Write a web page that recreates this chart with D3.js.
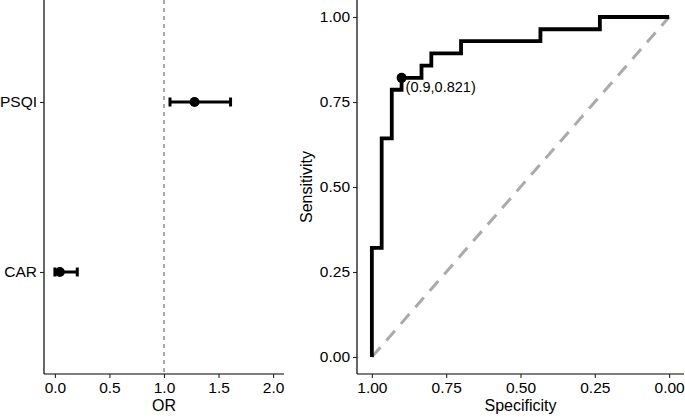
<!doctype html>
<html lang="en">
<head>
<meta charset="utf-8">
<title>OR forest plot and ROC curve</title>
<script src="https://d3js.org/d3.v7.min.js"></script>
<style>
  body { margin: 0; background: #fff; }
  text { font-family: "Liberation Sans", Arial, sans-serif; }
</style>
</head>
<body>
<div id="chart"></div>
<script>
// forest plot data
const factors = ["CAR", "PSQI"];
const orEst = [0.045, 1.28];
const orLow = [0.0, 1.055];
const orHigh = [0.205, 1.61];
const orTicks = [0, 0.5, 1.0, 1.5, 2.0];

// ROC curve vertices
const specificity = [1.000, 1.000, 0.967, 0.967, 0.933, 0.933, 0.900, 0.900, 0.833, 0.833, 0.800, 0.800, 0.700, 0.700, 0.433, 0.433, 0.233, 0.233, 0.000];
const sensitivity = [0.000, 0.321, 0.321, 0.643, 0.643, 0.786, 0.786, 0.821, 0.821, 0.857, 0.857, 0.893, 0.893, 0.929, 0.929, 0.964, 0.964, 1.000, 1.000];
const cutSpec = 0.9, cutSens = 0.821;
const rocTicks = [0, 0.25, 0.5, 0.75, 1.0];

const width = 685, height = 417;
const fsTick = 15.5, fsTitle = 16, fsLabel = 14.5;

const svg = d3.select("#chart").append("svg")
    .attr("width", width)
    .attr("height", height);

// ---------- left panel ----------
const L = {left: 44, right: 284, top: 0, bottom: 374};

const xOR = d3.scaleLinear().domain([-0.1, 2.1]).range([L.left, L.right]);
const yCat = d3.scaleLinear().domain([0.4, 2.6]).range([L.bottom, L.top]);

const gl = svg.append("g");

// reference line at OR = 1
gl.append("line")
    .attr("x1", xOR(1)).attr("x2", xOR(1))
    .attr("y1", L.top).attr("y2", L.bottom)
    .attr("stroke", "#666").attr("stroke-width", 1.1)
    .attr("stroke-dasharray", "4,4");

const rows = factors.map((f, i) => ({f, i: i + 1, est: orEst[i], lo: orLow[i], hi: orHigh[i]}));

gl.selectAll("line.ci").data(rows).enter().append("line")
    .attr("class", "ci")
    .attr("x1", d => xOR(d.lo)).attr("x2", d => xOR(d.hi))
    .attr("y1", d => yCat(d.i)).attr("y2", d => yCat(d.i))
    .attr("stroke", "#000").attr("stroke-width", 3);

["lo", "hi"].forEach(k => {
  gl.selectAll("line.cap" + k).data(rows).enter().append("line")
      .attr("x1", d => xOR(d[k])).attr("x2", d => xOR(d[k]))
      .attr("y1", d => yCat(d.i) - 4.5).attr("y2", d => yCat(d.i) + 4.5)
      .attr("stroke", "#000").attr("stroke-width", 3);
});

gl.selectAll("circle").data(rows).enter().append("circle")
    .attr("cx", d => xOR(d.est)).attr("cy", d => yCat(d.i))
    .attr("r", 5).attr("fill", "#000");

// axes
const xAxL = gl.append("g").attr("transform", `translate(0,${L.bottom})`)
    .call(d3.axisBottom(xOR).tickValues(orTicks).tickFormat(d3.format(".1f")).tickSize(4).tickPadding(4));
const yAxL = gl.append("g").attr("transform", `translate(${L.left},0)`)
    .call(d3.axisLeft(yCat).tickValues([1, 2]).tickFormat(d => factors[d - 1]).tickSize(4).tickPadding(3));

[xAxL, yAxL].forEach(a => {
  a.select(".domain").attr("stroke-width", 1.2).attr("stroke", "#000");
  a.selectAll(".tick line").attr("stroke", "#222").attr("stroke-width", 1.1);
  a.selectAll("text").attr("font-size", fsTick).attr("fill", "#000")
      .style("font-family", "'Liberation Sans', Arial, sans-serif");
});
xAxL.select(".domain").attr("d", `M${L.left},0H${L.right}`);
yAxL.select(".domain").attr("d", `M0,${L.top}V${L.bottom}`);

gl.append("text").attr("x", xOR(1)).attr("y", 411)
    .attr("text-anchor", "middle").attr("font-size", fsTitle).text("OR");

// ---------- right panel ----------
const R = {left: 357, right: 684, top: 0, bottom: 374};

const xSp = d3.scaleLinear().domain([1.05, -0.05]).range([R.left, R.right]);
const ySe = d3.scaleLinear().domain([-0.05, 1.05]).range([R.bottom, R.top]);

const gr = svg.append("g");

// chance diagonal
gr.append("line")
    .attr("x1", xSp(1)).attr("y1", ySe(0))
    .attr("x2", xSp(0)).attr("y2", ySe(1))
    .attr("stroke", "#aaa").attr("stroke-width", 3)
    .attr("stroke-dasharray", "13,9");

const rocPts = specificity.map((s, i) => [s, sensitivity[i]]);
gr.append("path")
    .datum(rocPts)
    .attr("d", d3.line().x(d => xSp(d[0])).y(d => ySe(d[1])))
    .attr("fill", "none").attr("stroke", "#000").attr("stroke-width", 3.8)
    .attr("stroke-linejoin", "miter");

gr.append("circle")
    .attr("cx", xSp(cutSpec)).attr("cy", ySe(cutSens))
    .attr("r", 5).attr("fill", "#000");

gr.append("text")
    .attr("x", xSp(cutSpec) + 4).attr("y", ySe(cutSens) + 14)
    .attr("font-size", fsLabel).attr("fill", "#000")
    .text(`(${cutSpec},${cutSens})`);

const xAxR = gr.append("g").attr("transform", `translate(0,${R.bottom})`)
    .call(d3.axisBottom(xSp).tickValues(rocTicks).tickFormat(d3.format(".2f")).tickSize(4).tickPadding(4));
const yAxR = gr.append("g").attr("transform", `translate(${R.left},0)`)
    .call(d3.axisLeft(ySe).tickValues(rocTicks).tickFormat(d3.format(".2f")).tickSize(4).tickPadding(3));

[xAxR, yAxR].forEach(a => {
  a.select(".domain").attr("stroke-width", 1.2).attr("stroke", "#000");
  a.selectAll(".tick line").attr("stroke", "#222").attr("stroke-width", 1.1);
  a.selectAll("text").attr("font-size", fsTick).attr("fill", "#000")
      .style("font-family", "'Liberation Sans', Arial, sans-serif");
});
xAxR.select(".domain").attr("d", `M${R.left},0H${R.right}`);
yAxR.select(".domain").attr("d", `M0,${R.top}V${R.bottom}`);

gr.append("text").attr("x", xSp(0.5)).attr("y", 411)
    .attr("text-anchor", "middle").attr("font-size", fsTitle).text("Specificity");

gr.append("text")
    .attr("transform", `translate(312,${ySe(0.5)}) rotate(-90)`)
    .attr("text-anchor", "middle").attr("font-size", fsTitle).text("Sensitivity");
</script>
</body>
</html>
